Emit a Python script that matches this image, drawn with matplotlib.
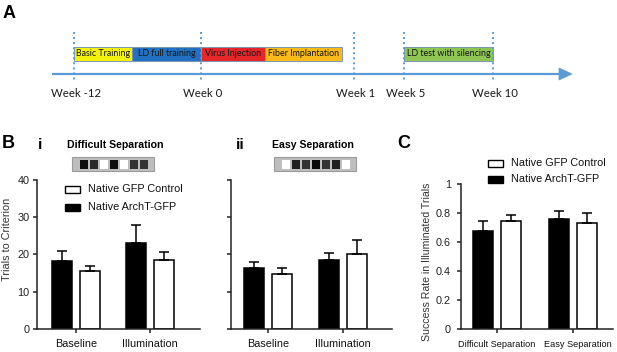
import matplotlib
matplotlib.use("Agg")
import matplotlib.pyplot as plt
from matplotlib.patches import Rectangle, Polygon
import matplotlib.transforms as mtransforms
import numpy as np

plt.rcParams['font.family'] = ['Liberation Sans', 'DejaVu Sans']

# ---------------- data ----------------
weeks = ["Week -12", "Week 0", "Week 1", "Week 5", "Week 10"]
phases = ["Basic Training", "LD full training", "Virus Injection",
          "Fiber Implantation", "LD test with silencing"]

groups_B = ["Baseline", "Illumination"]
diff_arch = [18.2, 23.0]
diff_arch_err = [2.7, 4.8]
diff_gfp = [15.5, 18.4]
diff_gfp_err = [1.3, 2.2]
easy_arch = [16.2, 18.4]
easy_arch_err = [1.8, 2.0]
easy_gfp = [14.6, 20.2]
easy_gfp_err = [1.6, 3.6]

groups_C = ["Difficult Separation", "Easy Separation"]
succ_arch = [0.674, 0.757]
succ_arch_err = [0.074, 0.060]
succ_gfp = [0.748, 0.729]
succ_gfp_err = [0.036, 0.069]

legend_labels = ["Native GFP Control", "Native ArchT-GFP"]
stim_difficult = [0.06, 0.16, 1.0, 0.06, 1.0, 0.2, 0.2]   # square grey levels
stim_easy = [1.0, 0.12, 0.2, 0.04, 0.2, 0.12, 1.0]

# ---------------- layout (pixels) ----------------
W, H, DPI = 617, 352, 100
week_x = [74, 201, 354, 404, 493]
phase_x0 = [74, 132, 201, 265, 404]
phase_x1 = [132, 201, 265, 342, 493]
phase_colors = ["#F4F20C", "#2271C2", "#E5262B", "#FABA18", "#8FC653"]
BLUE = "#5B9BD5"

fig = plt.figure(figsize=(W / DPI, H / DPI), dpi=DPI)

ov = fig.add_axes([0, 0, 1, 1])
ov.set_xlim(0, W)
ov.set_ylim(H, 0)
ov.axis('off')
ov.set_zorder(10)

# ---------------- Panel A: timeline ----------------
ov.text(3, 18.5, "A", fontsize=13, fontweight='bold', va='baseline', ha='left')
ov.plot([52, 560], [74, 74], color=BLUE, lw=1.6, solid_capstyle='butt')
ov.add_patch(Polygon([(559, 68), (572, 74), (559, 80)], closed=True,
                     fc=BLUE, ec=BLUE, lw=0.5))
ov.vlines(week_x, 32, 80, colors=BLUE, linestyles=(0, (1.0, 1.6)), lw=1.4)
for name, a, b, c in zip(phases, phase_x0, phase_x1, phase_colors):
    ov.add_patch(Rectangle((a, 46.5), b - a, 14, fc=c, ec="#7D96B3", lw=0.7))
    ov.text((a + b) / 2, 54, name, fontsize=6.4, family=['Lato', 'DejaVu Sans'],
            ha='center', va='center', color='#151515')
for wk, x in zip(weeks, week_x):
    ov.text(x + 2, 93.5, wk, fontsize=8.2, family=['Lato', 'DejaVu Sans'],
            ha='center', va='center', color='#1a1a1a')

# ---------------- helpers ----------------
def stimulus(x0, levels):
    ov.add_patch(Rectangle((x0, 157), 82, 14, fc="#BEBEBE", ec="#9A9A9A", lw=0.8))
    for i, g in enumerate(levels):
        ov.add_patch(Rectangle((x0 + 7.5 + 10 * i, 159.5), 8.5, 9,
                               fc=(g, g, g), ec='none'))

def legend(x, y1, y2):
    ov.add_patch(Rectangle((x, y1 - 3.5), 15, 7, fc='white', ec='black', lw=1.0))
    ov.add_patch(Rectangle((x, y2 - 3.5), 15, 7, fc='black', ec='black', lw=1.0))
    ov.text(x + 23, y1, legend_labels[0], fontsize=7.8, va='center', ha='left', color='#111')
    ov.text(x + 23, y2, legend_labels[1], fontsize=7.8, va='center', ha='left', color='#111')

def bar_panel(rect, tick_px, cats, arch, arch_err, gfp, gfp_err, ylim, yticks,
              yticklabels, xfs, ypad):
    x0, y0, x1, y1 = rect
    ax = fig.add_axes([x0 / W, 1 - y1 / H, (x1 - x0) / W, (y1 - y0) / H])
    t0, t1 = tick_px
    sc = t1 - t0
    pos = np.arange(len(cats))
    ax.set_xlim((x0 - t0) / sc, (x1 - t0) / sc)
    ax.set_ylim(*ylim)
    wid = 19.5 / sc
    off = 14.2 / sc
    ax.bar(pos - off, arch, wid, color='black', edgecolor='black', lw=1.1, zorder=2)
    ax.bar(pos + off, gfp, wid, color='white', edgecolor='black', lw=1.1, zorder=2)
    ax.errorbar(pos - off, arch, yerr=[np.zeros(len(arch)), arch_err], fmt='none',
                ecolor='black', elinewidth=1.1, capsize=3.6, capthick=1.1, zorder=3)
    ax.errorbar(pos + off, gfp, yerr=[np.zeros(len(gfp)), gfp_err], fmt='none',
                ecolor='black', elinewidth=1.1, capsize=3.6, capthick=1.1, zorder=3)
    for s in ['top', 'right']:
        ax.spines[s].set_visible(False)
    for s in ['left', 'bottom']:
        ax.spines[s].set_linewidth(1.1)
        ax.spines[s].set_color('#222')
    ax.set_xticks(pos)
    ax.set_xticklabels(cats, fontsize=xfs, color='#111')
    ax.set_yticks(yticks)
    ax.set_yticklabels(yticklabels, fontsize=7.8, color='#222')
    ax.tick_params(axis='both', direction='out', length=3, width=1.1, color='#222')
    ax.tick_params(axis='x', pad=4.5)
    ax.tick_params(axis='y', pad=ypad)
    ax.set_facecolor('none')
    return ax

# ---------------- Panel B ----------------
ov.text(2, 148, "B", fontsize=13, fontweight='bold', va='baseline', ha='left')
ov.text(38, 149, "i", fontsize=11, fontweight='bold', va='baseline', ha='left')
ov.text(236, 149, "ii", fontsize=11, fontweight='bold', va='baseline', ha='left')
ov.text(115, 148, "Difficult Separation", fontsize=7.6, fontweight='bold',
        va='baseline', ha='center')
ov.text(313, 148, "Easy Separation", fontsize=7.6, fontweight='bold',
        va='baseline', ha='center')
stimulus(72, stim_difficult)
stimulus(274, stim_easy)

bt = [0, 10, 20, 30, 40]
bar_panel((37, 179.5, 200, 329), (76, 150), groups_B, diff_arch, diff_arch_err,
          diff_gfp, diff_gfp_err, (0, 40), bt, [str(v) for v in bt], 7.8, 2.5)
bar_panel((231, 179.5, 392, 329), (268, 343), groups_B, easy_arch, easy_arch_err,
          easy_gfp, easy_gfp_err, (0, 40), bt, [""] * len(bt), 7.8, 2.5)
ov.text(7.5, 239, "Trials to Criterion", fontsize=7.8, rotation=90,
        ha='center', va='center', color='#333')
legend(65, 189, 207)

# ---------------- Panel C ----------------
ov.text(397, 148, "C", fontsize=13, fontweight='bold', va='baseline', ha='left')
ct = [0, 0.2, 0.4, 0.6, 0.8, 1.0]
axC = bar_panel((460.7, 184, 613, 329.3), (497, 573), groups_C, succ_arch, succ_arch_err,
                succ_gfp, succ_gfp_err, (0, 1), ct, ["0", "0.2", "0.4", "0.6", "0.8", "1"],
                6.6, 4)
# shift the right-hand category label slightly to the right, as in the original
lbl = axC.get_xticklabels()[1]
lbl.set_transform(lbl.get_transform() + mtransforms.ScaledTranslation(5 / DPI, 0, fig.dpi_scale_trans))
ov.text(427, 262, "Success Rate in Illuminated Trials", fontsize=7.6, rotation=90,
        ha='center', va='center', color='#333')
legend(488, 163, 179)

fig.savefig("out.png", dpi=DPI)
